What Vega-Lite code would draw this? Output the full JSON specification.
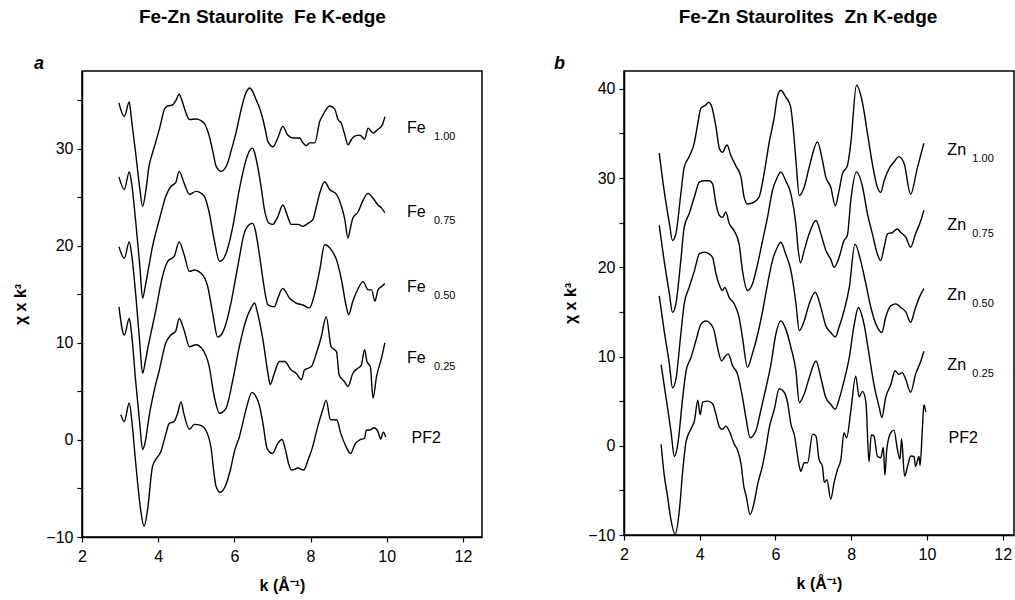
{
"$schema": "https://vega.github.io/schema/vega-lite/v6.json",
"background": "white",
"padding": {"left": 12, "top": 8, "right": 0, "bottom": 0},
"config": {
 "font": "Liberation Sans",
 "view": {"stroke": "black", "strokeWidth": 1.5},
 "axis": {"grid": false, "domainColor": "black", "domainWidth": 1.5, "tickColor": "black", "tickWidth": 1.2, "tickSize": 5, "labelColor": "black", "titleColor": "black", "labelFontSize": 16, "titleFontSize": 16, "titleFontWeight": "bold", "labelPadding": 4, "labelFlush": false, "labelOverlap": false},
 "title": {"color": "black"}
},
"datasets": {
"fe": [
{"s":"1.00","k":2.97,"v":34.7},{"s":"1.00","k":3.11,"v":33.3},{"s":"1.00","k":3.24,"v":34.8},{"s":"1.00","k":3.30,"v":33.0},{"s":"1.00","k":3.41,"v":29.5},{"s":"1.00","k":3.52,"v":25.8},{"s":"1.00","k":3.59,"v":24.05},{"s":"1.00","k":3.68,"v":25.8},{"s":"1.00","k":3.76,"v":28.2},{"s":"1.00","k":3.85,"v":29.55},{"s":"1.00","k":3.94,"v":30.75},{"s":"1.00","k":4.05,"v":32.3},{"s":"1.00","k":4.16,"v":34.0},{"s":"1.00","k":4.25,"v":34.4},{"s":"1.00","k":4.38,"v":34.5},{"s":"1.00","k":4.47,"v":35.0},{"s":"1.00","k":4.55,"v":35.6},{"s":"1.00","k":4.62,"v":35.0},{"s":"1.00","k":4.72,"v":33.8},{"s":"1.00","k":4.82,"v":33.0},{"s":"1.00","k":4.99,"v":33.05},{"s":"1.00","k":5.12,"v":32.9},{"s":"1.00","k":5.21,"v":32.6},{"s":"1.00","k":5.34,"v":31.3},{"s":"1.00","k":5.43,"v":29.8},{"s":"1.00","k":5.52,"v":28.2},{"s":"1.00","k":5.65,"v":27.66},{"s":"1.00","k":5.74,"v":27.9},{"s":"1.00","k":5.82,"v":28.5},{"s":"1.00","k":5.93,"v":30.0},{"s":"1.00","k":6.04,"v":31.6},{"s":"1.00","k":6.13,"v":33.2},{"s":"1.00","k":6.22,"v":34.7},{"s":"1.00","k":6.31,"v":35.8},{"s":"1.00","k":6.40,"v":36.25},{"s":"1.00","k":6.48,"v":35.9},{"s":"1.00","k":6.57,"v":35.05},{"s":"1.00","k":6.66,"v":34.2},{"s":"1.00","k":6.75,"v":33.0},{"s":"1.00","k":6.82,"v":31.8},{"s":"1.00","k":6.88,"v":30.75},{"s":"1.00","k":7.01,"v":30.2},{"s":"1.00","k":7.14,"v":31.1},{"s":"1.00","k":7.27,"v":32.3},{"s":"1.00","k":7.40,"v":31.4},{"s":"1.00","k":7.54,"v":31.1},{"s":"1.00","k":7.71,"v":31.1},{"s":"1.00","k":7.80,"v":30.6},{"s":"1.00","k":7.89,"v":30.3},{"s":"1.00","k":7.97,"v":30.6},{"s":"1.00","k":8.11,"v":30.6},{"s":"1.00","k":8.24,"v":32.8},{"s":"1.00","k":8.33,"v":33.5},{"s":"1.00","k":8.50,"v":34.4},{"s":"1.00","k":8.63,"v":34.1},{"s":"1.00","k":8.72,"v":33.0},{"s":"1.00","k":8.81,"v":32.6},{"s":"1.00","k":8.90,"v":31.4},{"s":"1.00","k":8.98,"v":30.4},{"s":"1.00","k":9.08,"v":31.0},{"s":"1.00","k":9.16,"v":31.3},{"s":"1.00","k":9.29,"v":31.4},{"s":"1.00","k":9.42,"v":31.0},{"s":"1.00","k":9.51,"v":32.1},{"s":"1.00","k":9.64,"v":31.6},{"s":"1.00","k":9.77,"v":32.0},{"s":"1.00","k":9.86,"v":32.3},{"s":"1.00","k":9.90,"v":32.6},{"s":"1.00","k":9.95,"v":33.3},
{"s":"0.75","k":2.97,"v":27.1},{"s":"0.75","k":3.11,"v":25.8},{"s":"0.75","k":3.24,"v":27.6},{"s":"0.75","k":3.30,"v":26.5},{"s":"0.75","k":3.41,"v":22.5},{"s":"0.75","k":3.52,"v":17.8},{"s":"0.75","k":3.59,"v":14.6},{"s":"0.75","k":3.66,"v":15.8},{"s":"0.75","k":3.76,"v":18.0},{"s":"0.75","k":3.85,"v":19.9},{"s":"0.75","k":4.03,"v":22.7},{"s":"0.75","k":4.20,"v":25.1},{"s":"0.75","k":4.33,"v":26.1},{"s":"0.75","k":4.46,"v":26.5},{"s":"0.75","k":4.55,"v":27.66},{"s":"0.75","k":4.68,"v":26.45},{"s":"0.75","k":4.82,"v":25.3},{"s":"0.75","k":4.99,"v":25.6},{"s":"0.75","k":5.21,"v":25.1},{"s":"0.75","k":5.34,"v":23.4},{"s":"0.75","k":5.47,"v":20.6},{"s":"0.75","k":5.61,"v":18.4},{"s":"0.75","k":5.70,"v":18.6},{"s":"0.75","k":5.78,"v":19.2},{"s":"0.75","k":5.96,"v":22.0},{"s":"0.75","k":6.13,"v":25.8},{"s":"0.75","k":6.31,"v":28.9},{"s":"0.75","k":6.40,"v":29.8},{"s":"0.75","k":6.48,"v":30.06},{"s":"0.75","k":6.55,"v":29.3},{"s":"0.75","k":6.61,"v":28.2},{"s":"0.75","k":6.70,"v":26.1},{"s":"0.75","k":6.79,"v":23.7},{"s":"0.75","k":6.92,"v":22.3},{"s":"0.75","k":7.01,"v":22.2},{"s":"0.75","k":7.14,"v":23.0},{"s":"0.75","k":7.27,"v":24.2},{"s":"0.75","k":7.40,"v":23.0},{"s":"0.75","k":7.49,"v":22.2},{"s":"0.75","k":7.67,"v":22.2},{"s":"0.75","k":7.80,"v":22.0},{"s":"0.75","k":7.93,"v":22.3},{"s":"0.75","k":8.06,"v":22.7},{"s":"0.75","k":8.15,"v":24.0},{"s":"0.75","k":8.24,"v":25.4},{"s":"0.75","k":8.37,"v":26.6},{"s":"0.75","k":8.50,"v":25.8},{"s":"0.75","k":8.68,"v":25.3},{"s":"0.75","k":8.81,"v":24.05},{"s":"0.75","k":8.90,"v":22.7},{"s":"0.75","k":8.98,"v":20.8},{"s":"0.75","k":9.05,"v":21.9},{"s":"0.75","k":9.11,"v":22.85},{"s":"0.75","k":9.25,"v":23.5},{"s":"0.75","k":9.38,"v":24.7},{"s":"0.75","k":9.51,"v":25.4},{"s":"0.75","k":9.64,"v":24.9},{"s":"0.75","k":9.77,"v":24.2},{"s":"0.75","k":9.86,"v":23.9},{"s":"0.75","k":9.95,"v":23.4},
{"s":"0.50","k":2.97,"v":19.9},{"s":"0.50","k":3.11,"v":18.7},{"s":"0.50","k":3.24,"v":20.4},{"s":"0.50","k":3.30,"v":19.2},{"s":"0.50","k":3.41,"v":15.0},{"s":"0.50","k":3.52,"v":9.8},{"s":"0.50","k":3.59,"v":6.87},{"s":"0.50","k":3.66,"v":8.0},{"s":"0.50","k":3.73,"v":9.5},{"s":"0.50","k":3.81,"v":11.0},{"s":"0.50","k":3.94,"v":13.4},{"s":"0.50","k":4.11,"v":16.8},{"s":"0.50","k":4.25,"v":18.4},{"s":"0.50","k":4.42,"v":18.9},{"s":"0.50","k":4.55,"v":20.4},{"s":"0.50","k":4.68,"v":19.1},{"s":"0.50","k":4.82,"v":17.35},{"s":"0.50","k":4.95,"v":17.5},{"s":"0.50","k":5.12,"v":17.2},{"s":"0.50","k":5.30,"v":15.8},{"s":"0.50","k":5.43,"v":13.05},{"s":"0.50","k":5.56,"v":10.6},{"s":"0.50","k":5.65,"v":10.8},{"s":"0.50","k":5.74,"v":11.5},{"s":"0.50","k":5.91,"v":14.1},{"s":"0.50","k":6.09,"v":17.9},{"s":"0.50","k":6.26,"v":21.3},{"s":"0.50","k":6.40,"v":22.2},{"s":"0.50","k":6.48,"v":22.3},{"s":"0.50","k":6.55,"v":21.6},{"s":"0.50","k":6.61,"v":20.3},{"s":"0.50","k":6.70,"v":17.9},{"s":"0.50","k":6.79,"v":15.5},{"s":"0.50","k":6.88,"v":13.9},{"s":"0.50","k":7.05,"v":13.7},{"s":"0.50","k":7.14,"v":14.6},{"s":"0.50","k":7.27,"v":15.6},{"s":"0.50","k":7.45,"v":14.6},{"s":"0.50","k":7.62,"v":14.1},{"s":"0.50","k":7.80,"v":13.9},{"s":"0.50","k":7.97,"v":13.6},{"s":"0.50","k":8.11,"v":15.1},{"s":"0.50","k":8.24,"v":17.5},{"s":"0.50","k":8.37,"v":20.1},{"s":"0.50","k":8.54,"v":19.6},{"s":"0.50","k":8.68,"v":18.55},{"s":"0.50","k":8.81,"v":16.5},{"s":"0.50","k":8.94,"v":13.7},{"s":"0.50","k":9.00,"v":12.9},{"s":"0.50","k":9.11,"v":14.3},{"s":"0.50","k":9.25,"v":15.6},{"s":"0.50","k":9.38,"v":16.3},{"s":"0.50","k":9.51,"v":15.45},{"s":"0.50","k":9.60,"v":15.45},{"s":"0.50","k":9.69,"v":14.3},{"s":"0.50","k":9.77,"v":15.45},{"s":"0.50","k":9.86,"v":15.8},{"s":"0.50","k":9.95,"v":16.1},
{"s":"0.25","k":2.97,"v":13.7},{"s":"0.25","k":3.11,"v":10.8},{"s":"0.25","k":3.24,"v":12.5},{"s":"0.25","k":3.30,"v":11.0},{"s":"0.25","k":3.41,"v":6.0},{"s":"0.25","k":3.52,"v":1.5},{"s":"0.25","k":3.59,"v":-1.0},{"s":"0.25","k":3.66,"v":-0.2},{"s":"0.25","k":3.76,"v":2.4},{"s":"0.25","k":3.90,"v":5.15},{"s":"0.25","k":4.03,"v":7.2},{"s":"0.25","k":4.20,"v":10.0},{"s":"0.25","k":4.33,"v":10.8},{"s":"0.25","k":4.46,"v":11.2},{"s":"0.25","k":4.55,"v":12.5},{"s":"0.25","k":4.68,"v":11.3},{"s":"0.25","k":4.82,"v":9.6},{"s":"0.25","k":4.99,"v":9.8},{"s":"0.25","k":5.17,"v":9.3},{"s":"0.25","k":5.34,"v":7.55},{"s":"0.25","k":5.47,"v":4.5},{"s":"0.25","k":5.61,"v":2.75},{"s":"0.25","k":5.78,"v":3.26},{"s":"0.25","k":5.96,"v":6.2},{"s":"0.25","k":6.13,"v":9.6},{"s":"0.25","k":6.31,"v":12.4},{"s":"0.25","k":6.44,"v":13.6},{"s":"0.25","k":6.53,"v":14.1},{"s":"0.25","k":6.61,"v":13.05},{"s":"0.25","k":6.75,"v":10.3},{"s":"0.25","k":6.88,"v":6.87},{"s":"0.25","k":6.94,"v":5.7},{"s":"0.25","k":7.05,"v":6.87},{"s":"0.25","k":7.18,"v":8.07},{"s":"0.25","k":7.32,"v":8.07},{"s":"0.25","k":7.49,"v":7.2},{"s":"0.25","k":7.62,"v":6.87},{"s":"0.25","k":7.76,"v":6.2},{"s":"0.25","k":7.84,"v":7.2},{"s":"0.25","k":8.02,"v":7.55},{"s":"0.25","k":8.15,"v":8.9},{"s":"0.25","k":8.28,"v":10.6},{"s":"0.25","k":8.41,"v":12.7},{"s":"0.25","k":8.54,"v":9.6},{"s":"0.25","k":8.68,"v":9.1},{"s":"0.25","k":8.75,"v":6.7},{"s":"0.25","k":8.89,"v":6.0},{"s":"0.25","k":8.98,"v":5.5},{"s":"0.25","k":9.11,"v":6.87},{"s":"0.25","k":9.25,"v":7.4},{"s":"0.25","k":9.33,"v":7.7},{"s":"0.25","k":9.42,"v":9.3},{"s":"0.25","k":9.48,"v":8.07},{"s":"0.25","k":9.57,"v":7.55},{"s":"0.25","k":9.64,"v":4.3},{"s":"0.25","k":9.73,"v":6.5},{"s":"0.25","k":9.86,"v":8.4},{"s":"0.25","k":9.95,"v":10.0},
{"s":"PF2","k":3.02,"v":2.6},{"s":"PF2","k":3.11,"v":1.9},{"s":"PF2","k":3.24,"v":3.8},{"s":"PF2","k":3.32,"v":1.5},{"s":"PF2","k":3.41,"v":-2.4},{"s":"PF2","k":3.54,"v":-7.2},{"s":"PF2","k":3.63,"v":-8.9},{"s":"PF2","k":3.72,"v":-7.2},{"s":"PF2","k":3.85,"v":-2.75},{"s":"PF2","k":3.94,"v":-2.0},{"s":"PF2","k":4.07,"v":-1.2},{"s":"PF2","k":4.20,"v":0.6},{"s":"PF2","k":4.29,"v":1.7},{"s":"PF2","k":4.42,"v":1.9},{"s":"PF2","k":4.50,"v":2.6},{"s":"PF2","k":4.60,"v":3.9},{"s":"PF2","k":4.68,"v":2.6},{"s":"PF2","k":4.82,"v":1.1},{"s":"PF2","k":4.95,"v":1.6},{"s":"PF2","k":5.12,"v":1.5},{"s":"PF2","k":5.25,"v":1.0},{"s":"PF2","k":5.39,"v":-0.9},{"s":"PF2","k":5.47,"v":-3.6},{"s":"PF2","k":5.52,"v":-4.8},{"s":"PF2","k":5.63,"v":-5.4},{"s":"PF2","k":5.78,"v":-4.6},{"s":"PF2","k":5.90,"v":-3.0},{"s":"PF2","k":6.00,"v":-1.2},{"s":"PF2","k":6.13,"v":0.3},{"s":"PF2","k":6.31,"v":3.2},{"s":"PF2","k":6.46,"v":4.9},{"s":"PF2","k":6.55,"v":4.6},{"s":"PF2","k":6.66,"v":3.5},{"s":"PF2","k":6.75,"v":1.7},{"s":"PF2","k":6.86,"v":-0.9},{"s":"PF2","k":7.00,"v":-1.4},{"s":"PF2","k":7.14,"v":-0.35},{"s":"PF2","k":7.25,"v":0.05},{"s":"PF2","k":7.34,"v":-1.0},{"s":"PF2","k":7.42,"v":-2.4},{"s":"PF2","k":7.50,"v":-3.1},{"s":"PF2","k":7.67,"v":-2.9},{"s":"PF2","k":7.82,"v":-3.1},{"s":"PF2","k":7.93,"v":-2.1},{"s":"PF2","k":8.04,"v":-0.9},{"s":"PF2","k":8.19,"v":1.4},{"s":"PF2","k":8.32,"v":3.1},{"s":"PF2","k":8.41,"v":4.1},{"s":"PF2","k":8.52,"v":2.1},{"s":"PF2","k":8.69,"v":2.05},{"s":"PF2","k":8.79,"v":0.7},{"s":"PF2","k":8.92,"v":-0.6},{"s":"PF2","k":9.05,"v":-1.4},{"s":"PF2","k":9.17,"v":-0.4},{"s":"PF2","k":9.29,"v":0.0},{"s":"PF2","k":9.42,"v":0.17},{"s":"PF2","k":9.46,"v":1.0},{"s":"PF2","k":9.58,"v":1.05},{"s":"PF2","k":9.66,"v":1.25},{"s":"PF2","k":9.77,"v":0.86},{"s":"PF2","k":9.84,"v":0.1},{"s":"PF2","k":9.91,"v":0.8},{"s":"PF2","k":9.97,"v":0.3}
],
"zn": [
{"s":"1.00","k":2.93,"v":32.8},{"s":"1.00","k":3.06,"v":28.6},{"s":"1.00","k":3.20,"v":24.9},{"s":"1.00","k":3.28,"v":23.0},{"s":"1.00","k":3.37,"v":23.75},{"s":"1.00","k":3.50,"v":28.2},{"s":"1.00","k":3.59,"v":31.2},{"s":"1.00","k":3.72,"v":32.4},{"s":"1.00","k":3.86,"v":34.0},{"s":"1.00","k":3.94,"v":35.9},{"s":"1.00","k":4.03,"v":37.8},{"s":"1.00","k":4.16,"v":38.2},{"s":"1.00","k":4.23,"v":38.5},{"s":"1.00","k":4.30,"v":38.2},{"s":"1.00","k":4.43,"v":35.7},{"s":"1.00","k":4.52,"v":33.3},{"s":"1.00","k":4.60,"v":32.9},{"s":"1.00","k":4.72,"v":33.7},{"s":"1.00","k":4.82,"v":32.55},{"s":"1.00","k":4.95,"v":31.4},{"s":"1.00","k":5.09,"v":30.1},{"s":"1.00","k":5.17,"v":27.9},{"s":"1.00","k":5.26,"v":27.1},{"s":"1.00","k":5.44,"v":27.3},{"s":"1.00","k":5.57,"v":27.9},{"s":"1.00","k":5.70,"v":30.5},{"s":"1.00","k":5.83,"v":33.9},{"s":"1.00","k":5.97,"v":36.85},{"s":"1.00","k":6.05,"v":39.1},{"s":"1.00","k":6.14,"v":39.85},{"s":"1.00","k":6.27,"v":39.1},{"s":"1.00","k":6.40,"v":38.0},{"s":"1.00","k":6.47,"v":35.5},{"s":"1.00","k":6.54,"v":32.0},{"s":"1.00","k":6.63,"v":28.05},{"s":"1.00","k":6.76,"v":29.0},{"s":"1.00","k":6.89,"v":31.2},{"s":"1.00","k":7.11,"v":34.05},{"s":"1.00","k":7.24,"v":32.0},{"s":"1.00","k":7.33,"v":30.1},{"s":"1.00","k":7.46,"v":29.0},{"s":"1.00","k":7.58,"v":26.9},{"s":"1.00","k":7.68,"v":28.6},{"s":"1.00","k":7.77,"v":30.5},{"s":"1.00","k":7.90,"v":31.4},{"s":"1.00","k":7.99,"v":33.9},{"s":"1.00","k":8.14,"v":40.4},{"s":"1.00","k":8.30,"v":38.4},{"s":"1.00","k":8.43,"v":35.0},{"s":"1.00","k":8.56,"v":31.6},{"s":"1.00","k":8.69,"v":29.0},{"s":"1.00","k":8.78,"v":28.4},{"s":"1.00","k":8.87,"v":29.7},{"s":"1.00","k":9.00,"v":31.05},{"s":"1.00","k":9.13,"v":31.8},{"s":"1.00","k":9.26,"v":32.4},{"s":"1.00","k":9.40,"v":31.6},{"s":"1.00","k":9.57,"v":28.2},{"s":"1.00","k":9.75,"v":31.2},{"s":"1.00","k":9.92,"v":33.9},
{"s":"0.75","k":2.93,"v":24.7},{"s":"0.75","k":3.06,"v":20.75},{"s":"0.75","k":3.20,"v":17.0},{"s":"0.75","k":3.28,"v":14.95},{"s":"0.75","k":3.37,"v":15.9},{"s":"0.75","k":3.50,"v":20.75},{"s":"0.75","k":3.59,"v":24.5},{"s":"0.75","k":3.72,"v":26.0},{"s":"0.75","k":3.86,"v":27.9},{"s":"0.75","k":3.99,"v":29.55},{"s":"0.75","k":4.12,"v":29.7},{"s":"0.75","k":4.25,"v":29.7},{"s":"0.75","k":4.34,"v":29.35},{"s":"0.75","k":4.43,"v":27.1},{"s":"0.75","k":4.52,"v":25.8},{"s":"0.75","k":4.60,"v":25.6},{"s":"0.75","k":4.69,"v":26.2},{"s":"0.75","k":4.78,"v":24.9},{"s":"0.75","k":4.91,"v":24.1},{"s":"0.75","k":5.04,"v":22.6},{"s":"0.75","k":5.13,"v":19.6},{"s":"0.75","k":5.26,"v":17.4},{"s":"0.75","k":5.39,"v":18.1},{"s":"0.75","k":5.53,"v":20.4},{"s":"0.75","k":5.66,"v":23.0},{"s":"0.75","k":5.79,"v":25.6},{"s":"0.75","k":5.92,"v":28.6},{"s":"0.75","k":6.05,"v":30.1},{"s":"0.75","k":6.14,"v":30.7},{"s":"0.75","k":6.27,"v":29.7},{"s":"0.75","k":6.41,"v":28.2},{"s":"0.75","k":6.54,"v":24.8},{"s":"0.75","k":6.60,"v":22.0},{"s":"0.75","k":6.66,"v":20.5},{"s":"0.75","k":6.76,"v":21.9},{"s":"0.75","k":6.89,"v":23.75},{"s":"0.75","k":7.07,"v":25.25},{"s":"0.75","k":7.20,"v":23.75},{"s":"0.75","k":7.33,"v":21.9},{"s":"0.75","k":7.46,"v":20.9},{"s":"0.75","k":7.55,"v":20.0},{"s":"0.75","k":7.68,"v":21.1},{"s":"0.75","k":7.81,"v":23.0},{"s":"0.75","k":7.90,"v":23.6},{"s":"0.75","k":7.99,"v":27.5},{"s":"0.75","k":8.14,"v":30.7},{"s":"0.75","k":8.30,"v":29.0},{"s":"0.75","k":8.43,"v":26.0},{"s":"0.75","k":8.56,"v":23.75},{"s":"0.75","k":8.69,"v":21.5},{"s":"0.75","k":8.78,"v":20.75},{"s":"0.75","k":8.87,"v":22.25},{"s":"0.75","k":8.96,"v":23.75},{"s":"0.75","k":9.09,"v":23.9},{"s":"0.75","k":9.22,"v":24.3},{"s":"0.75","k":9.31,"v":23.9},{"s":"0.75","k":9.44,"v":23.4},{"s":"0.75","k":9.57,"v":22.25},{"s":"0.75","k":9.70,"v":23.75},{"s":"0.75","k":9.84,"v":25.25},{"s":"0.75","k":9.92,"v":26.4},
{"s":"0.50","k":2.93,"v":16.8},{"s":"0.50","k":3.06,"v":12.9},{"s":"0.50","k":3.20,"v":9.1},{"s":"0.50","k":3.28,"v":6.5},{"s":"0.50","k":3.37,"v":7.45},{"s":"0.50","k":3.50,"v":12.5},{"s":"0.50","k":3.59,"v":15.9},{"s":"0.50","k":3.72,"v":17.75},{"s":"0.50","k":3.86,"v":19.6},{"s":"0.50","k":3.99,"v":21.5},{"s":"0.50","k":4.12,"v":21.7},{"s":"0.50","k":4.25,"v":21.5},{"s":"0.50","k":4.34,"v":21.1},{"s":"0.50","k":4.43,"v":19.25},{"s":"0.50","k":4.52,"v":18.0},{"s":"0.50","k":4.60,"v":17.4},{"s":"0.50","k":4.66,"v":17.75},{"s":"0.50","k":4.78,"v":16.6},{"s":"0.50","k":4.91,"v":15.9},{"s":"0.50","k":5.04,"v":14.4},{"s":"0.50","k":5.13,"v":12.1},{"s":"0.50","k":5.26,"v":8.8},{"s":"0.50","k":5.39,"v":10.3},{"s":"0.50","k":5.53,"v":12.5},{"s":"0.50","k":5.66,"v":15.1},{"s":"0.50","k":5.79,"v":18.1},{"s":"0.50","k":5.92,"v":20.75},{"s":"0.50","k":6.05,"v":22.25},{"s":"0.50","k":6.14,"v":22.8},{"s":"0.50","k":6.27,"v":21.5},{"s":"0.50","k":6.41,"v":19.6},{"s":"0.50","k":6.54,"v":16.0},{"s":"0.50","k":6.63,"v":12.9},{"s":"0.50","k":6.76,"v":14.0},{"s":"0.50","k":6.89,"v":15.9},{"s":"0.50","k":7.05,"v":17.2},{"s":"0.50","k":7.20,"v":15.5},{"s":"0.50","k":7.33,"v":13.45},{"s":"0.50","k":7.46,"v":12.7},{"s":"0.50","k":7.58,"v":12.2},{"s":"0.50","k":7.68,"v":13.3},{"s":"0.50","k":7.81,"v":15.1},{"s":"0.50","k":7.95,"v":17.75},{"s":"0.50","k":8.10,"v":22.6},{"s":"0.50","k":8.25,"v":20.75},{"s":"0.50","k":8.39,"v":18.1},{"s":"0.50","k":8.52,"v":15.5},{"s":"0.50","k":8.69,"v":13.3},{"s":"0.50","k":8.81,"v":12.7},{"s":"0.50","k":8.91,"v":14.4},{"s":"0.50","k":9.05,"v":15.7},{"s":"0.50","k":9.18,"v":15.9},{"s":"0.50","k":9.31,"v":15.5},{"s":"0.50","k":9.44,"v":15.0},{"s":"0.50","k":9.57,"v":13.85},{"s":"0.50","k":9.70,"v":15.5},{"s":"0.50","k":9.84,"v":17.0},{"s":"0.50","k":9.92,"v":17.6},
{"s":"0.25","k":2.98,"v":9.1},{"s":"0.25","k":3.11,"v":5.4},{"s":"0.25","k":3.24,"v":1.65},{"s":"0.25","k":3.33,"v":-1.2},{"s":"0.25","k":3.42,"v":0.15},{"s":"0.25","k":3.55,"v":5.4},{"s":"0.25","k":3.64,"v":8.4},{"s":"0.25","k":3.77,"v":9.9},{"s":"0.25","k":3.90,"v":11.8},{"s":"0.25","k":4.03,"v":13.6},{"s":"0.25","k":4.16,"v":14.0},{"s":"0.25","k":4.30,"v":13.6},{"s":"0.25","k":4.38,"v":12.9},{"s":"0.25","k":4.47,"v":11.0},{"s":"0.25","k":4.58,"v":9.5},{"s":"0.25","k":4.65,"v":9.9},{"s":"0.25","k":4.75,"v":10.3},{"s":"0.25","k":4.87,"v":8.95},{"s":"0.25","k":5.00,"v":8.0},{"s":"0.25","k":5.13,"v":5.4},{"s":"0.25","k":5.22,"v":3.15},{"s":"0.25","k":5.33,"v":0.9},{"s":"0.25","k":5.48,"v":1.65},{"s":"0.25","k":5.61,"v":3.9},{"s":"0.25","k":5.75,"v":6.5},{"s":"0.25","k":5.88,"v":9.1},{"s":"0.25","k":6.01,"v":12.5},{"s":"0.25","k":6.14,"v":14.0},{"s":"0.25","k":6.27,"v":13.1},{"s":"0.25","k":6.41,"v":11.0},{"s":"0.25","k":6.54,"v":8.4},{"s":"0.25","k":6.63,"v":4.85},{"s":"0.25","k":6.76,"v":5.8},{"s":"0.25","k":6.89,"v":7.6},{"s":"0.25","k":7.07,"v":9.5},{"s":"0.25","k":7.20,"v":7.6},{"s":"0.25","k":7.33,"v":5.4},{"s":"0.25","k":7.46,"v":4.65},{"s":"0.25","k":7.58,"v":4.1},{"s":"0.25","k":7.68,"v":5.2},{"s":"0.25","k":7.81,"v":7.25},{"s":"0.25","k":7.95,"v":9.9},{"s":"0.25","k":8.08,"v":13.6},{"s":"0.25","k":8.19,"v":15.5},{"s":"0.25","k":8.34,"v":13.6},{"s":"0.25","k":8.47,"v":10.3},{"s":"0.25","k":8.60,"v":6.9},{"s":"0.25","k":8.74,"v":4.3},{"s":"0.25","k":8.81,"v":3.15},{"s":"0.25","k":8.91,"v":5.4},{"s":"0.25","k":9.05,"v":6.9},{"s":"0.25","k":9.16,"v":8.4},{"s":"0.25","k":9.26,"v":8.0},{"s":"0.25","k":9.35,"v":8.2},{"s":"0.25","k":9.44,"v":7.45},{"s":"0.25","k":9.57,"v":6.0},{"s":"0.25","k":9.70,"v":8.0},{"s":"0.25","k":9.84,"v":9.5},{"s":"0.25","k":9.92,"v":10.6},
{"s":"PF2","k":2.98,"v":0.15},{"s":"PF2","k":3.06,"v":-3.2},{"s":"PF2","k":3.15,"v":-5.65},{"s":"PF2","k":3.24,"v":-8.3},{"s":"PF2","k":3.35,"v":-9.9},{"s":"PF2","k":3.46,"v":-7.35},{"s":"PF2","k":3.55,"v":-2.85},{"s":"PF2","k":3.64,"v":0.5},{"s":"PF2","k":3.77,"v":1.9},{"s":"PF2","k":3.86,"v":2.8},{"s":"PF2","k":3.95,"v":5.1},{"s":"PF2","k":4.01,"v":3.5},{"s":"PF2","k":4.08,"v":4.9},{"s":"PF2","k":4.21,"v":5.0},{"s":"PF2","k":4.34,"v":4.7},{"s":"PF2","k":4.43,"v":3.5},{"s":"PF2","k":4.52,"v":2.1},{"s":"PF2","k":4.60,"v":1.85},{"s":"PF2","k":4.69,"v":2.2},{"s":"PF2","k":4.78,"v":1.65},{"s":"PF2","k":4.91,"v":0.2},{"s":"PF2","k":5.00,"v":-0.5},{"s":"PF2","k":5.09,"v":-2.0},{"s":"PF2","k":5.17,"v":-4.7},{"s":"PF2","k":5.22,"v":-5.5},{"s":"PF2","k":5.33,"v":-7.7},{"s":"PF2","k":5.44,"v":-6.3},{"s":"PF2","k":5.53,"v":-4.3},{"s":"PF2","k":5.66,"v":-2.2},{"s":"PF2","k":5.75,"v":-0.2},{"s":"PF2","k":5.83,"v":1.9},{"s":"PF2","k":5.97,"v":4.1},{"s":"PF2","k":6.10,"v":6.4},{"s":"PF2","k":6.23,"v":6.0},{"s":"PF2","k":6.32,"v":4.85},{"s":"PF2","k":6.41,"v":2.4},{"s":"PF2","k":6.50,"v":1.2},{"s":"PF2","k":6.63,"v":-2.3},{"s":"PF2","k":6.67,"v":-2.85},{"s":"PF2","k":6.76,"v":-1.9},{"s":"PF2","k":6.85,"v":-1.9},{"s":"PF2","k":6.98,"v":1.3},{"s":"PF2","k":7.07,"v":1.1},{"s":"PF2","k":7.15,"v":-1.5},{"s":"PF2","k":7.24,"v":-2.3},{"s":"PF2","k":7.29,"v":-4.1},{"s":"PF2","k":7.36,"v":-3.8},{"s":"PF2","k":7.46,"v":-6.0},{"s":"PF2","k":7.55,"v":-4.1},{"s":"PF2","k":7.64,"v":-2.65},{"s":"PF2","k":7.73,"v":-1.5},{"s":"PF2","k":7.81,"v":1.46},{"s":"PF2","k":7.88,"v":0.9},{"s":"PF2","k":7.99,"v":3.9},{"s":"PF2","k":8.12,"v":7.8},{"s":"PF2","k":8.21,"v":5.5},{"s":"PF2","k":8.30,"v":6.1},{"s":"PF2","k":8.39,"v":4.85},{"s":"PF2","k":8.47,"v":-1.8},{"s":"PF2","k":8.53,"v":1.2},{"s":"PF2","k":8.60,"v":1.1},{"s":"PF2","k":8.69,"v":-1.15},{"s":"PF2","k":8.78,"v":-1.35},{"s":"PF2","k":8.85,"v":-0.2},{"s":"PF2","k":8.89,"v":-3.3},{"s":"PF2","k":8.94,"v":-0.4},{"s":"PF2","k":9.05,"v":1.5},{"s":"PF2","k":9.13,"v":1.75},{"s":"PF2","k":9.22,"v":-0.4},{"s":"PF2","k":9.29,"v":-1.5},{"s":"PF2","k":9.33,"v":0.8},{"s":"PF2","k":9.41,"v":-3.4},{"s":"PF2","k":9.49,"v":-2.3},{"s":"PF2","k":9.57,"v":-1.15},{"s":"PF2","k":9.66,"v":-1.2},{"s":"PF2","k":9.70,"v":-2.3},{"s":"PF2","k":9.79,"v":-1.2},{"s":"PF2","k":9.82,"v":-2.2},{"s":"PF2","k":9.88,"v":1.9},{"s":"PF2","k":9.92,"v":4.6},{"s":"PF2","k":9.97,"v":3.8}
],
"felab": [
{"main":"Fe","sub":"1.00","k":10.53,"v":32.1},
{"main":"Fe","sub":"0.75","k":10.53,"v":23.5},
{"main":"Fe","sub":"0.50","k":10.53,"v":15.8},
{"main":"Fe","sub":"0.25","k":10.53,"v":8.45},
{"main":"PF2","sub":"","k":10.65,"v":0.2}
],
"znlab": [
{"main":"Zn","sub":"1.00","k":10.54,"v":33.1},
{"main":"Zn","sub":"0.75","k":10.54,"v":24.7},
{"main":"Zn","sub":"0.50","k":10.54,"v":16.85},
{"main":"Zn","sub":"0.25","k":10.54,"v":9.1},
{"main":"PF2","sub":"","k":10.57,"v":0.9}
]
},
"spacing": 70,
"hconcat": [
{
 "title": {"text": "Fe-Zn Staurolite\u00a0\u00a0Fe K-edge", "fontSize": 19, "fontWeight": "bold", "anchor": "middle", "dx": 15, "offset": 27},
 "vconcat": [
 {
  "width": 400, "height": 466,
  "title": {"text": "a", "anchor": "start", "frame": "group", "dx": -48, "fontSize": 18, "fontWeight": "bold", "fontStyle": "italic", "offset": -2},
  "layer": [
   {"data": {"name": "fe"}, "mark": {"type": "line", "color": "black", "strokeWidth": 1.4, "interpolate": "monotone"},
    "encoding": {
     "x": {"field": "k", "type": "quantitative", "scale": {"domain": [2, 12.5], "nice": false, "zero": false},
           "axis": {"title": "k (Å⁻¹)", "values": [2,3,4,5,6,7,8,9,10,11,12], "labelExpr": "datum.value % 2 == 0 ? datum.label : ''", "labelPadding": 6, "titlePadding": 13}},
     "y": {"field": "v", "type": "quantitative", "scale": {"domain": [-10, 38], "nice": false, "zero": false},
           "axis": {"title": "χ x k³", "values": [-10,-5,0,5,10,15,20,25,30,35], "labelExpr": "datum.value % 10 == 0 ? datum.label : ''", "titlePadding": 17}},
     "detail": {"field": "s"}
    }},
   {"data": {"name": "felab"}, "mark": {"type": "text", "align": "left", "baseline": "middle", "fontSize": 16, "color": "black"},
    "encoding": {"x": {"field": "k", "type": "quantitative"}, "y": {"field": "v", "type": "quantitative"}, "text": {"field": "main"}}},
   {"data": {"name": "felab"}, "mark": {"type": "text", "align": "left", "baseline": "middle", "fontSize": 11, "dx": 27, "dy": 9, "color": "black"},
    "encoding": {"x": {"field": "k", "type": "quantitative"}, "y": {"field": "v", "type": "quantitative"}, "text": {"field": "sub"}}}
  ]
 }
 ]
},
{
 "title": {"text": "Fe-Zn Staurolites\u00a0\u00a0Zn K-edge", "fontSize": 19, "fontWeight": "bold", "anchor": "middle", "dx": 24, "offset": 27},
 "vconcat": [
 {
  "width": 390, "height": 464,
  "title": {"text": "b", "anchor": "start", "frame": "group", "dx": -70, "fontSize": 18, "fontWeight": "bold", "fontStyle": "italic", "offset": -2},
  "layer": [
   {"data": {"name": "zn"}, "mark": {"type": "line", "color": "black", "strokeWidth": 1.4, "interpolate": "monotone"},
    "encoding": {
     "x": {"field": "k", "type": "quantitative", "scale": {"domain": [2, 12.3], "nice": false, "zero": false},
           "axis": {"title": "k (Å⁻¹)", "values": [2,3,4,5,6,7,8,9,10,11,12], "labelExpr": "datum.value % 2 == 0 ? datum.label : ''", "labelPadding": 6, "titlePadding": 13}},
     "y": {"field": "v", "type": "quantitative", "scale": {"domain": [-10, 42], "nice": false, "zero": false},
           "axis": {"title": "χ x k³", "values": [-10,-5,0,5,10,15,20,25,30,35,40], "labelExpr": "datum.value % 10 == 0 ? datum.label : ''", "titlePadding": 9}},
     "detail": {"field": "s"}
    }},
   {"data": {"name": "znlab"}, "mark": {"type": "text", "align": "left", "baseline": "middle", "fontSize": 16, "color": "black"},
    "encoding": {"x": {"field": "k", "type": "quantitative"}, "y": {"field": "v", "type": "quantitative"}, "text": {"field": "main"}}},
   {"data": {"name": "znlab"}, "mark": {"type": "text", "align": "left", "baseline": "middle", "fontSize": 11, "dx": 25, "dy": 9, "color": "black"},
    "encoding": {"x": {"field": "k", "type": "quantitative"}, "y": {"field": "v", "type": "quantitative"}, "text": {"field": "sub"}}}
  ]
 }
 ]
}
]
}
